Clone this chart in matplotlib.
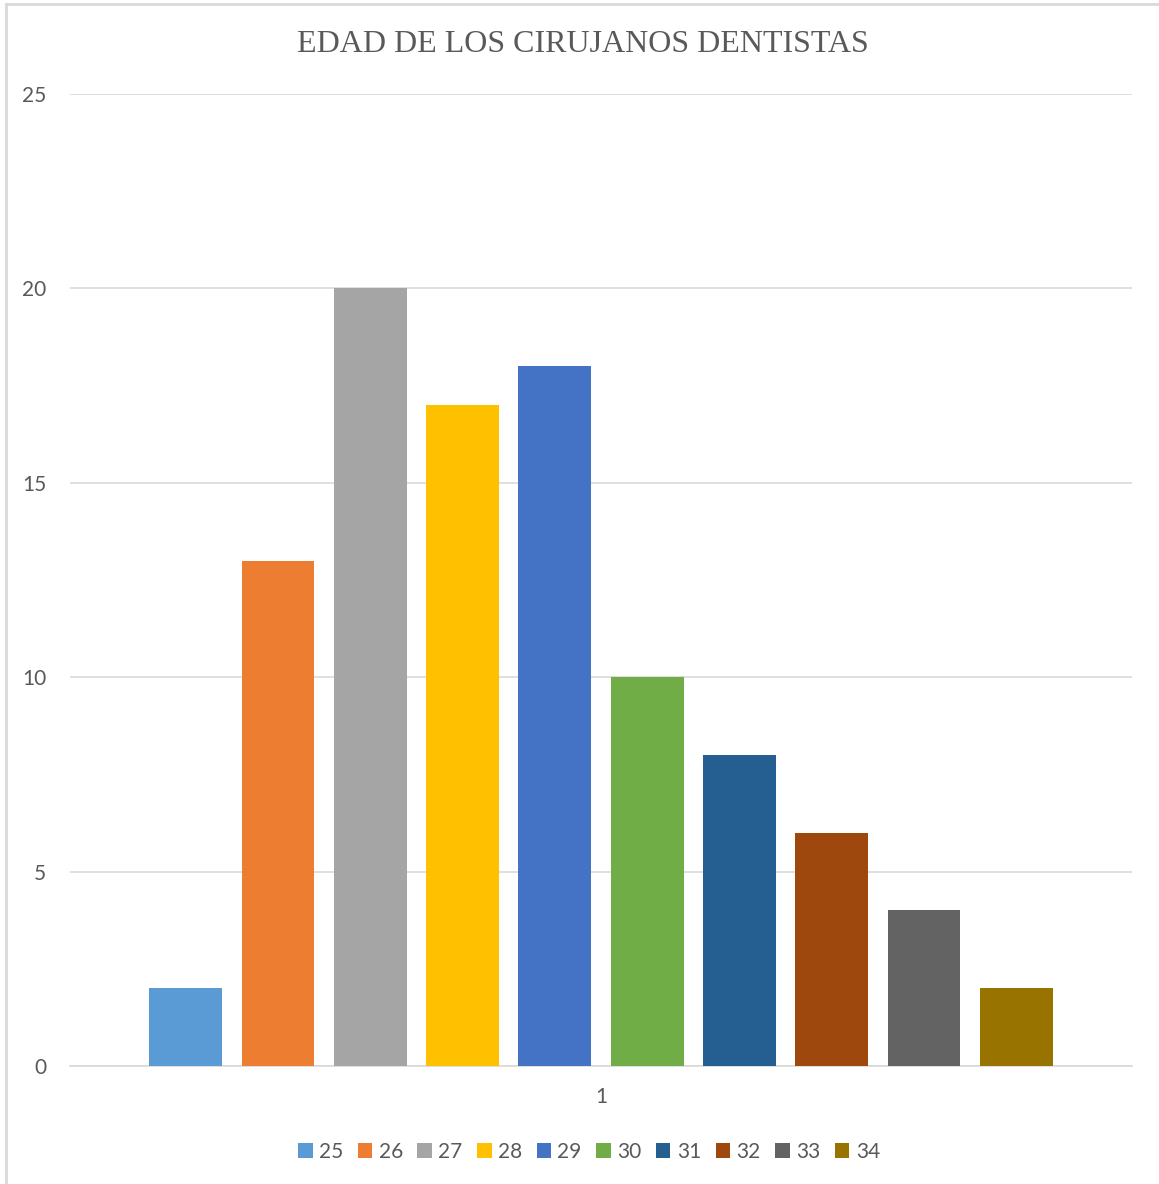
import matplotlib
matplotlib.use("Agg")
import matplotlib.pyplot as plt
from matplotlib.lines import Line2D
from matplotlib.patches import Patch

title = "EDAD DE LOS CIRUJANOS DENTISTAS"
series = ["25", "26", "27", "28", "29", "30", "31", "32", "33", "34"]
values = [2, 13, 20, 17, 18, 10, 8, 6, 4, 2]
category = ["1"]
colors = ["#5B9BD5", "#ED7D31", "#A5A5A5", "#FFC000", "#4472C4",
          "#70AD47", "#255E91", "#9E480E", "#636363", "#997300"]

fig = plt.figure(figsize=(11.59, 11.84), dpi=100)
ax = fig.add_axes([70/1159, 1 - 1066/1184, (1132-70)/1159, (1066-94)/1184])

n = len(series)
step = 0.0869
width = 0.0687
for i, (s, v, c) in enumerate(zip(series, values, colors)):
    x = 0 + (i - (n - 1) / 2) * step
    ax.bar(x, v, width=width, color=c, label=s, zorder=3)

ax.set_xlim(-0.5, 0.5)
ax.set_ylim(0, 25)
ax.set_yticks([0, 5, 10, 15, 20, 25])
ax.set_xticks([0])
ax.set_xticklabels(category)
ax.grid(axis="y", color="#D9D9D9", linewidth=1.2, zorder=0)
for sp in ["top", "right", "left"]:
    ax.spines[sp].set_visible(False)
ax.spines["bottom"].set_color("#D9D9D9")
ax.spines["bottom"].set_linewidth(1.2)
ax.tick_params(axis="both", length=0, colors="#595959", labelsize=15)
ax.tick_params(axis="y", pad=17)
ax.tick_params(axis="x", pad=15)
for lbl in ax.get_xticklabels() + ax.get_yticklabels():
    lbl.set_fontfamily("Lato")

fig.text(583/1159, 1 - 45/1184, title, ha="center", va="center",
         fontsize=23, color="#595959", fontfamily="Liberation Serif")

handles = [Patch(facecolor=c, label=s) for s, c in zip(series, colors)]
fig.legend(handles=handles, loc="center", bbox_to_anchor=(589/1159, 1 - 1152/1184),
           ncol=n, frameon=False, handlelength=0.7, handleheight=0.7,
           handletextpad=0.3, columnspacing=0.7,
           prop={"family": "Lato", "size": 15}, labelcolor="#595959")

fig.lines.append(Line2D([5.5/1159, 5.5/1159], [0, 1 - 3.5/1184],
                        transform=fig.transFigure, color="#D9D9D9", linewidth=2))
fig.lines.append(Line2D([5.5/1159, 1], [1 - 3.5/1184, 1 - 3.5/1184],
                        transform=fig.transFigure, color="#D9D9D9", linewidth=2))

fig.savefig("out.png", dpi=100, facecolor="white")
